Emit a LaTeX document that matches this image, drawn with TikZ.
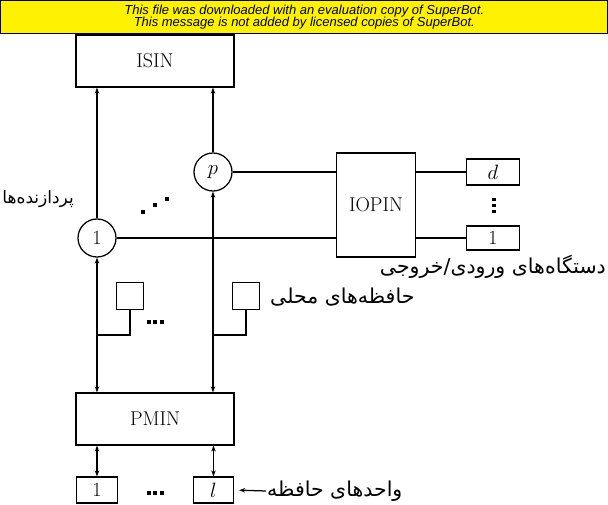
\documentclass[tikz,border=0pt]{standalone}
\usepackage{fontspec}
\newfontfamily\arabicfont[Script=Arabic]{DejaVu Sans}
\newfontfamily\bannerfont{Liberation Sans}
\TeXXeTstate=1
\usetikzlibrary{arrows.meta}
\begin{document}
\begin{tikzpicture}[x=1pt,y=-1pt,
  conn/.style={line width=1.25pt},
  blk/.style={draw, line width=1.25pt, rectangle, inner sep=0pt, font=\fontsize{20}{24}\selectfont},
  proc/.style={draw, line width=1.25pt, circle, minimum size=38pt, inner sep=0pt, font=\fontsize{20}{24}\selectfont},
  tipend/.style={-{Stealth[length=6pt,width=4.5pt]}},
  tipboth/.style={{Stealth[length=6pt,width=4.5pt]}-{Stealth[length=6pt,width=4.5pt]}},
  fa/.style={inner sep=1pt},
  dotsq/.style={fill=black}
]
\useasboundingbox (0,0) rectangle (608,505);
% banner
\node[draw, line width=0.8pt, fill=yellow, minimum width=607pt, minimum height=33pt, anchor=north west, inner sep=0pt,
  align=center, font=\bannerfont\itshape\fontsize{13}{12.5}\selectfont] (banner) at (0.4,0.4)
  {This file was downloaded with an evaluation copy of SuperBot.\\This message is not added by licensed copies of SuperBot.};
% main blocks
\node[blk, minimum width=158pt, minimum height=52pt] (isin) at (155,61) {ISIN};
\node[blk, minimum width=158pt, minimum height=52pt] (pmin) at (155,419) {PMIN};
\node[blk, minimum width=79pt, minimum height=104pt] (iopin) at (376,205) {IOPIN};
% processors
\node[proc] (p1) at (97,238) {1};
\node[proc] (pp) at (213,172) {$p$};
% io devices
\node[blk, minimum width=53pt, minimum height=26pt] (dd) at (493,172) {$d$};
\node[blk, minimum width=53pt, minimum height=24pt] (d1) at (493,238) {1};
% local memories
\node[blk, minimum width=27pt, minimum height=27pt] (lm1) at (130,296) {};
\node[blk, minimum width=27pt, minimum height=27pt] (lmp) at (246,296) {};
\coordinate (j1) at (97,335);
\coordinate (jp) at (213,335);
% memory units
\node[blk, minimum width=41pt, minimum height=26pt] (m1) at (97,490) {1};
\node[blk, minimum width=40pt, minimum height=26pt] (ml) at (213.5,490) {$l$};
% labels
\node[fa, anchor=east, font=\arabicfont\fontsize{17}{20}\selectfont] (lproc) at (75,199) {\beginR پردازنده‌ها\endR};
\node[fa, anchor=east, font=\arabicfont\fontsize{20.5}{24}\selectfont] (lio) at (607,267) {\beginR دستگاه‌های ورودی/خروجی\endR};
\node[fa, anchor=west, font=\arabicfont\fontsize{20.5}{24}\selectfont] (lloc) at (269,297) {\beginR حافظه‌های محلی\endR};
\node[fa, anchor=west, font=\arabicfont\fontsize{20.5}{24}\selectfont] (lmem) at (266,491) {\beginR واحدهای حافظه\endR};
% connectors
\draw[conn, tipend] (p1.north) -- (p1.north |- isin.south);
\draw[conn, tipend] (pp.north) -- (pp.north |- isin.south);
\draw[conn, tipboth] (p1.south) -- (p1.south |- pmin.north);
\draw[conn, tipboth] (pp.south) -- (pp.south |- pmin.north);
\draw[conn] (pp.east) -- (pp.east -| iopin.west);
\draw[conn] (p1.east) -- (p1.east -| iopin.west);
\draw[conn] (iopin.east |- dd.west) -- (dd.west);
\draw[conn] (iopin.east |- d1.west) -- (d1.west);
\draw[conn] (lm1.south) |- (j1);
\draw[conn] (lmp.south) |- (jp);
\draw[conn, tipboth] (m1.north |- pmin.south) -- (m1.north);
\draw[conn, tipboth] (ml.north |- pmin.south) -- (ml.north);
\draw[conn, tipend, shorten >=5pt] (lmem.west) -- (ml.east);
% dots
\foreach \x/\y in {142.7/212, 155/205.5, 166.5/199} \fill[dotsq] (\x-2,\y-2) rectangle (\x+2,\y+2);
\foreach \y in {199.5, 205.5, 211.5} \fill[dotsq] (491.5,\y-1.8) rectangle (496,\y+1.8);
\foreach \x in {148.5, 155, 161.5} \fill[dotsq] (\x-2,322-2) rectangle (\x+2,322+2);
\foreach \x in {148.5, 155, 161.5} \fill[dotsq] (\x-2,493-2) rectangle (\x+2,493+2);
\end{tikzpicture}
\end{document}
